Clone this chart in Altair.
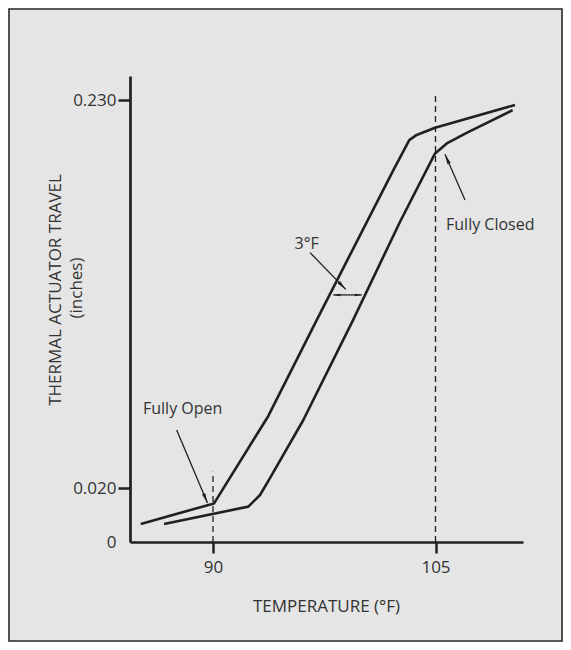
import altair as alt
import pandas as pd
import numpy as np

# ---- data -------------------------------------------------------------------
# Curve that rises first (left / upper curve)
temp_a = [85.13, 90.07, 93.73, 96.99, 102.16, 103.23, 103.73, 104.97, 110.36]
travel_a = [0.0067, 0.0143, 0.0590, 0.1109, 0.1921, 0.2083, 0.2111, 0.2150, 0.2273]
# Curve that rises later (right / lower curve)
temp_b = [86.70, 92.38, 93.17, 93.84, 96.09, 99.44, 102.61, 104.97, 105.76, 107.10, 110.20]
travel_b = [0.0067, 0.0131, 0.0174, 0.0253, 0.0568, 0.1109, 0.1641, 0.2011, 0.2065, 0.2122, 0.2245]

x_ticks = [90, 105]
y_ticks = [0, 0.020, 0.230]

# dashed reference lines: temperature, top of line
ref_temp = [90, 105]
ref_top = [0.0288, 0.2343]

# annotation texts
note_text = ["Fully Open", "Fully Closed"]
note_temp = [85.28, 105.71]
note_travel = [0.0628, 0.1623]
mid_text = ["3°F"]
mid_temp = [96.32]
mid_travel = [0.1523]

# arrows: start -> tip (data units)
arrow_x0 = [87.55, 96.54, 106.99, 99.05, 99.05]
arrow_y0 = [0.0514, 0.1474, 0.1759, 0.1245, 0.1245]
arrow_x1 = [89.63, 98.95, 105.64, 98.11, 100.03]
arrow_y1 = [0.0144, 0.1275, 0.2006, 0.1245, 0.1245]
arrow_head = [100, 100, 100, 49, 49]

# ---- scales -------------------------------------------------------------------
W, H = 393, 466
XDOM = [84.404, 110.899]
YDOM = [0.0, 0.020, 0.243]
YRNG = [466, 412, 0]
INK = "#231f20"
TXT = "#333333"
FONT = "Open Sans"


def to_px(t, v):
    return np.interp(t, XDOM, [0, W]), np.interp(v, YDOM, YRNG)


def from_px(px, py):
    return np.interp(px, [0, W], XDOM), np.interp(py, YRNG[::-1], YDOM[::-1])


curves = pd.DataFrame({
    "temp": temp_a + temp_b,
    "travel": travel_a + travel_b,
    "curve": ["A"] * len(temp_a) + ["B"] * len(temp_b),
    "order": list(range(len(temp_a))) + list(range(len(temp_b))),
})

refs = pd.DataFrame({"temp": ref_temp, "y0": [0, 0], "y1": ref_top})

rows = []
heads = []
for x0, y0, x1, y1, s in zip(arrow_x0, arrow_y0, arrow_x1, arrow_y1, arrow_head):
    rows.append({"x0": x0, "y0": y0, "x1": x1, "y1": y1})
    p0 = np.array(to_px(x0, y0))
    p1 = np.array(to_px(x1, y1))
    d = p1 - p0
    u = d / np.hypot(*d)
    r = np.sqrt(s) / 2
    c = p1 - r * u
    ct, cv = from_px(c[0], c[1])
    ang = float(np.degrees(np.arctan2(u[0], -u[1])) % 360)
    heads.append({"t": float(ct), "v": float(cv), "angle": ang, "size": s})
arrows = pd.DataFrame(rows)
heads = pd.DataFrame(heads)

notes = pd.DataFrame({"text": note_text, "temp": note_temp, "travel": note_travel})
mids = pd.DataFrame({"text": mid_text, "temp": mid_temp, "travel": mid_travel})

xs = alt.Scale(domain=XDOM, nice=False, zero=False)
ys = alt.Scale(domain=YDOM, range=YRNG, nice=False, zero=False)

x_axis = alt.Axis(values=x_ticks, title=None, grid=False, labelFont=FONT, labelFontSize=17,
                  labelColor=TXT, tickSize=11, tickWidth=2.5, tickColor=INK, labelPadding=6,
                  domainColor=INK, domainWidth=2.7, labelFlush=False)
y_axis = alt.Axis(values=y_ticks, title=None, grid=False, labelFont=FONT, labelFontSize=17,
                  labelColor=TXT, tickSize=12, tickWidth=2.5,
                  tickColor={"condition": {"test": "datum.value === 0", "value": "transparent"}, "value": INK},
                  labelPadding=2, domainColor=INK, domainWidth=2.7,
                  labelExpr="datum.value === 0 ? '0' : format(datum.value, '.3f')")

lines = alt.Chart(curves).mark_line(color=INK, strokeWidth=2.6, strokeJoin="round").encode(
    x=alt.X("temp:Q", scale=xs, axis=x_axis),
    y=alt.Y("travel:Q", scale=ys, axis=y_axis),
    detail="curve:N",
    order="order:Q",
)

dashed = alt.Chart(refs).mark_rule(color=INK, strokeWidth=1.3, strokeDash=[6, 4]).encode(
    x="temp:Q", y="y0:Q", y2="y1:Q"
)

arrow_lines = alt.Chart(arrows).mark_rule(color=INK, strokeWidth=1.3).encode(
    x="x0:Q", y="y0:Q", x2="x1:Q", y2="y1:Q"
)

arrow_heads = alt.Chart(heads).mark_point(
    shape="M0,-1L0.36,1L-0.36,1Z", filled=True, color=INK, opacity=1, strokeWidth=0
).encode(
    x="t:Q", y="v:Q",
    angle=alt.Angle("angle:Q", scale=None),
    size=alt.Size("size:Q", scale=None),
)

note_marks = alt.Chart(notes).mark_text(align="left", baseline="middle", font=FONT,
                                        fontSize=16, color=TXT).encode(
    x="temp:Q", y="travel:Q", text="text:N")
mid_marks = alt.Chart(mids).mark_text(align="center", baseline="middle", font=FONT,
                                      fontSize=16, color=TXT).encode(
    x="temp:Q", y="travel:Q", text="text:N")

one = pd.DataFrame({"a": [0]})
x_title = alt.Chart(one).mark_text(text="TEMPERATURE (°F)", align="center", baseline="middle",
                                   font=FONT, fontSize=17, color=TXT).encode(
    x=alt.value(196.5), y=alt.value(531))
y_title1 = alt.Chart(one).mark_text(text="THERMAL ACTUATOR TRAVEL", align="center", baseline="middle",
                                    angle=270, font=FONT, fontSize=17, color=TXT).encode(
    x=alt.value(-74.5), y=alt.value(214))
y_title2 = alt.Chart(one).mark_text(text="(inches)", align="center", baseline="middle",
                                    angle=270, font=FONT, fontSize=17, color=TXT).encode(
    x=alt.value(-53.5), y=alt.value(212))

frame = alt.Chart(one).mark_rect(fill="transparent", stroke="#2b2b2b", strokeWidth=1.6).encode(
    x=alt.value(-121), x2=alt.value(432), y=alt.value(-67), y2=alt.value(565))

chart = alt.layer(
    frame, dashed, lines, arrow_lines, arrow_heads, note_marks, mid_marks, x_title, y_title1, y_title2
).properties(
    width=W, height=H,
    autosize=alt.AutoSizeParams(type="none"),
    padding={"left": 122, "top": 68, "right": 40, "bottom": 100},
).configure(background="#e5e5e5").configure_view(stroke=None)

chart.save("out.html", embed_options={"renderer": "svg", "actions": False})
